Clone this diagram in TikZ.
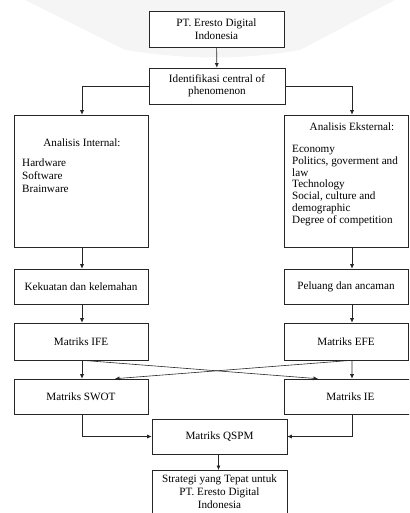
\documentclass[tikz,border=0pt]{standalone}
\usepackage{fontspec}
\setmainfont{Liberation Serif}
\usetikzlibrary{calc}
\usetikzlibrary{shapes,arrows.meta}

\begin{document}
\begin{tikzpicture}[x=1bp,y=-1bp]
    \tikzset{
        box/.style={draw=black!85, fill=white, line width=0.6pt, rectangle, inner sep=0pt, font=\fontsize{11.2}{12.5}\selectfont, align=center},
        line/.style={draw=black!85, line width=0.6pt, -{Latex[length=4.5bp,width=4bp]}},
        txt/.style={inner sep=0pt, font=\fontsize{11.2}{12.5}\selectfont},
    };
    \clip (0,0) rectangle (409,513);
    \fill [black!4] (25,0) -- (125,50) .. controls (190,60) and (240,60) .. (300,50) -- (395,0) -- cycle;

    \node [box, minimum width=135bp, minimum height=36bp] (eresto) at (216.5,29) {PT. Eresto Digital\\Indonesia};
    \node [box, minimum width=136bp, minimum height=36bp] (ident) at (217,86) {Identifikasi central of\\phenomenon};

    \node [box, minimum width=134bp, minimum height=132bp] (internal) at (81,181) {};
    \node [box, minimum width=124bp, minimum height=132bp] (external) at (346,181) {};
    \node [txt] (intTitle) at (82,142.5) {Analisis Internal:};
    \node [txt, align=left, anchor=north west, font=\fontsize{11.2}{13.3}\selectfont] (intList) at (22,158.5) {Hardware\\Software\\Brainware};
    \node [txt] (extTitle) at (352,127) {Analisis Eksternal:};
    \node [txt, align=left, anchor=north west, font=\fontsize{11.2}{11.8}\selectfont] (extList) at (292,145) {Economy\\Politics, goverment and\\law\\Technology\\Social, culture and\\demographic\\Degree of competition};

    \node [box, minimum width=134bp, minimum height=35bp] (kekuatan) at (81,286.5) {Kekuatan dan kelemahan};
    \node [box, minimum width=124bp, minimum height=35bp] (peluang) at (346,286.5) {Peluang dan ancaman};
    \node [box, minimum width=134bp, minimum height=37bp] (ife) at (81,341.5) {Matriks IFE};
    \node [box, minimum width=124bp, minimum height=37bp] (efe) at (346,341.5) {Matriks EFE};
    \node [box, minimum width=134bp, minimum height=35bp] (swot) at (81,396.5) {Matriks SWOT};
    \node [box, minimum width=127bp, minimum height=35bp] (ie) at (347.5,396.5) {\hspace*{6bp}Matriks IE};
    \node [box, minimum width=135bp, minimum height=35bp] (qspm) at (219.5,436.5) {Matriks QSPM};
    \node [box, minimum width=135bp, minimum height=62bp, anchor=north, text depth=0pt, font=\fontsize{11.2}{13}\selectfont] (strategi) at (219.5,470) {\rule{0pt}{12bp}Strategi yang Tepat untuk\\PT. Eresto Digital\\Indonesia\\ \\};

    \path [line] (eresto) -- (ident);
    \path [line] (ident.west) -| ([xshift=1bp]internal.north);
    \path [line] (ident.east) -| ([xshift=6bp]external.north);
    \path [line] ([xshift=1bp]internal.south) -- ([xshift=1bp]kekuatan.north);
    \path [line] ([xshift=6bp]external.south) -- ([xshift=6bp]peluang.north);
    \path [line] ([xshift=1bp]kekuatan.south) -- ([xshift=1bp]ife.north);
    \path [line] ([xshift=6bp]peluang.south) -- ([xshift=6bp]efe.north);
    \path [line] ([xshift=1bp]ife.south) -- ([xshift=1bp]swot.north);
    \path [line] ([xshift=6bp]efe.south) -- ([xshift=4.5bp]ie.north);
    \path [line] ([xshift=1bp]ife.south) -- ([xshift=-29.5bp]ie.north);
    \path [line] ([xshift=6bp]efe.south) -- ([xshift=34bp]swot.north);
    \path [line] ([xshift=1bp]swot.south) |- (qspm.west);
    \path [line] ([xshift=4.5bp]ie.south) |- (qspm.east);
    \path [line] ([xshift=-1bp]qspm.south) -- ([xshift=-1bp]strategi.north);
\end{tikzpicture}
\end{document}
